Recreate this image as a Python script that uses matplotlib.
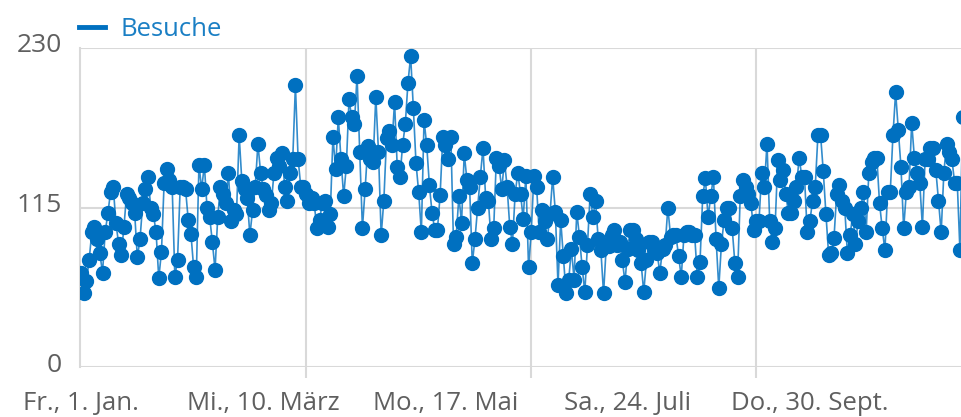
import numpy as np
import matplotlib
matplotlib.use("Agg")
import matplotlib.pyplot as plt
from matplotlib.lines import Line2D
import matplotlib.transforms as mtransforms

# Besuche pro Tag ab Fr., 1. Jan.
besuche = [
    68, 53, 62, 77, 97, 101, 92, 82, 68, 97,
    111, 126, 130, 104, 89, 81, 101, 125, 122, 118,
    111, 79, 92, 118, 128, 137, 115, 110, 97, 64,
    83, 133, 143, 135, 130, 65, 77, 130, 130, 128,
    106, 96, 72, 65, 146, 128, 146, 115, 108, 90,
    70, 108, 130, 125, 118, 140, 105, 113, 110, 167,
    134, 128, 122, 95, 113, 130, 161, 140, 128, 124,
    113, 118, 140, 151, 145, 154, 130, 120, 140, 150,
    203, 150, 130, 130, 125, 118, 122, 118, 100, 106,
    118, 120, 101, 110, 166, 143, 180, 150, 123, 145,
    193, 180, 175, 210, 155, 100, 128, 159, 150, 148,
    195, 155, 95, 120, 165, 170, 160, 191, 144, 137,
    160, 175, 205, 224, 187, 147, 126, 97, 178, 160,
    131, 111, 99, 99, 124, 166, 160, 150, 166, 89,
    94, 123, 104, 154, 135, 130, 75, 92, 115, 137,
    158, 122, 120, 92, 100, 151, 145, 128, 149, 130,
    101, 89, 125, 140, 125, 107, 138, 72, 97, 138,
    130, 97, 113, 105, 92, 110, 137, 112, 59, 106,
    80, 53, 63, 85, 63, 112, 94, 72, 54, 88,
    125, 108, 120, 92, 84, 53, 87, 87, 95, 99,
    88, 90, 77, 61, 85, 99, 99, 92, 84, 75,
    54, 77, 90, 90, 85, 82, 68, 85, 88, 115,
    94, 95, 95, 80, 65, 95, 97, 97, 95, 95,
    65, 76, 123, 136, 108, 123, 137, 92, 57, 89,
    106, 115, 115, 100, 75, 65, 123, 135, 130, 125,
    118, 99, 105, 105, 140, 130, 161, 105, 90, 100,
    149, 135, 142, 125, 111, 111, 120, 130, 151, 137,
    137, 97, 105, 120, 130, 167, 167, 141, 110, 81,
    82, 93, 125, 131, 120, 115, 82, 95, 110, 89,
    105, 115, 126, 97, 140, 148, 151, 151, 118, 100,
    84, 126, 126, 167, 198, 171, 144, 100, 126, 130,
    176, 151, 140, 133, 101, 150, 150, 158, 158, 142,
    120, 97, 140, 161, 155, 150, 133, 133, 84, 180,
]
tage = np.arange(len(besuche))

label_pos = [0, 68, 136, 204, 272]
label_txt = ["Fr., 1. Jan.", "Mi., 10. März", "Mo., 17. Mai", "Sa., 24. Juli", "Do., 30. Sept."]
grid_pos = [0, 84, 168, 252]
y_ticks = [0, 115, 230]

blau = "#0070c0"
grau = "#d9d9d9"
textgrau = "#5f5f5f"

plt.rcParams["font.family"] = ["Open Sans", "DejaVu Sans"]

fig = plt.figure(figsize=(9.61, 4.17), dpi=100)
ax = fig.add_axes([80 / 961, 1 - 367 / 417, 881 / 961, (367 - 48) / 417])

ax.plot(tage, besuche, color=blau, lw=1.2, alpha=0.8, zorder=3)
ax.plot(tage, besuche, ls="none", marker="o", ms=10, color=blau, zorder=4)

ax.set_xlim(-0.4, 328.4)
ax.set_ylim(0, 230)

ax.set_yticks(y_ticks)
ax.set_yticklabels([str(v) for v in y_ticks])
ax.set_xticks(label_pos)
ax.set_xticklabels(label_txt)
ax.set_xticks(grid_pos, minor=True)

ax.tick_params(axis="y", length=0, pad=13, labelsize=19, labelcolor=textgrau)
ax.tick_params(axis="x", which="major", length=0, pad=17, labelsize=18.5, labelcolor=textgrau)
ax.tick_params(axis="x", which="minor", length=8, width=1.5, color=grau)

# y-Beschriftungen etwas ueber der Gitterlinie
off = mtransforms.ScaledTranslation(0, 5 / 100, fig.dpi_scale_trans)
for lab in ax.get_yticklabels():
    lab.set_transform(lab.get_transform() + off)

ax.grid(axis="y", color=grau, lw=1.5)
ax.grid(axis="x", which="minor", color=grau, lw=1.5)
ax.set_axisbelow(True)
for s in ["top", "right", "bottom"]:
    ax.spines[s].set_visible(False)
ax.spines["left"].set_color(grau)
ax.spines["left"].set_linewidth(1.5)

handle = Line2D([], [], color=blau, lw=3.5)
ax.legend([handle], ["Besuche"], loc="lower left", bbox_to_anchor=(-0.008, 1.0),
          frameon=False, fontsize=18.5, labelcolor="#1a7fc4", handlelength=1.0,
          handletextpad=0.6, borderaxespad=0.15, borderpad=0.1)

fig.savefig("out.png", dpi=100)
